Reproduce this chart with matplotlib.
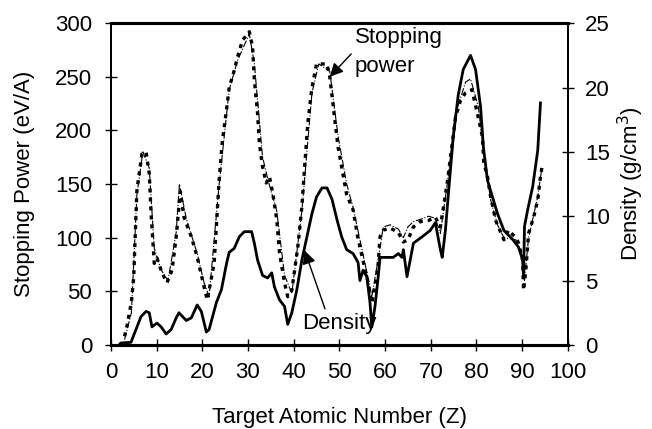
import numpy as np
import matplotlib
matplotlib.use("Agg")
import matplotlib.pyplot as plt

plt.rcParams['font.family'] = ['Liberation Sans', 'DejaVu Sans']

# stopping power (eV/A)
sp_z = [3, 3.5, 4.5, 5, 5.7, 6.8, 7.7, 8.4, 8.8, 9.5, 10.1, 11.2, 12.3, 13.4, 14.3, 15.2, 16, 17.6, 18.9,
        20.4, 21.1, 22.6, 23.7, 24.4, 25.3, 25.9, 27, 27.7, 28.8, 30.3, 31, 31.4, 32.1, 32.5, 33.2, 34,
        34.7, 35.4, 36.3, 36.9, 38, 38.7, 39.6, 40.9, 41.8, 42.4, 43.1, 44, 45, 47.3, 47.9, 49, 49.7,
        50.5, 51.6, 53, 54, 55, 56.3, 57.1, 57.8, 58.5, 58.9, 59.6, 61.1, 62.9, 64, 65, 66.2, 67.7,
        69.5, 71, 72.1, 73.6, 74.7, 75.4, 76.5, 77.6, 79, 80.4, 81.3, 81.6, 82.4, 83.1, 84.2, 86, 87,
        88.6, 89.2, 90.1, 90.3, 90.8, 91.4, 92.5, 93.4, 94, 94.3]
sp_val = [8, 17, 40, 63, 144, 178, 180, 160, 123, 76, 81, 67, 58, 70, 101, 143, 119, 101, 82,
          54, 42, 76, 154, 190, 219, 240, 256, 268, 284, 292, 278, 247, 216, 188, 166, 151,
          157, 142, 117, 86, 58, 45, 51, 91, 129, 166, 207, 240, 262, 262, 250, 210, 185,
          166, 140, 126, 101, 82, 58, 39, 54, 76, 101, 107, 109, 105, 96, 98, 110, 115,
          116, 119, 110, 151, 188, 212, 228, 235, 238, 212, 194, 170, 157, 138, 116, 98, 107,
          100, 95, 79, 51, 70, 104, 119, 135, 157, 165]

# second (thin dash-dot) stopping power curve
sp2_z = [3, 4.5, 5.7, 7, 8.4, 9.5, 11, 12.5, 14.3, 15, 16.5, 18.9, 20.4, 21.5, 23.7, 25.9, 27.7,
         30.3, 31.4, 33.2, 34.5, 36.3, 38, 39.6, 41.8, 44, 45.5, 47.9, 49.7, 51.6, 53, 55, 56.3,
         57.1, 58.5, 59.6, 61.1, 62.9, 64, 65, 66.2, 67.7, 69.5, 71, 72.1, 73.6, 75.4, 77.6, 78.7,
         80.4, 81.6, 83.1, 84.6, 86, 88.6, 90.1, 90.5, 91.4, 93.4, 94.3]
sp2_val = [5, 30, 140, 180, 165, 90, 70, 60, 105, 150, 118, 85, 58, 45, 150, 238, 265,
           290, 262, 175, 152, 125, 65, 48, 125, 235, 262, 255, 195, 150, 128, 88, 62,
           45, 80, 110, 112, 108, 100, 110, 115, 117, 120, 118, 104, 150, 215, 245, 248,
           222, 180, 135, 112, 100, 98, 80, 60, 100, 138, 165]

# density (g/cm3), solid curve
den_z = [1.8, 2.2, 4.4, 5.5, 6.6, 7.7, 8.4, 9, 10.1, 11, 12.1, 13.2, 14.3, 14.9, 16.5, 17.6, 18.9,
         19.8, 20.9, 21.5, 23.1, 24.2, 25.3, 25.9, 27, 28.1, 29.2, 30.8, 31.4, 32.1, 33.2, 34.3,
         35.2, 35.8, 36.9, 38, 38.7, 39.6, 40.7, 41.8, 42.9, 44, 45, 46.2, 47.3, 48.4, 49.5, 50.5,
         51.6, 53, 54.1, 54.5, 55.2, 56, 56.7, 57.1, 57.8, 58.5, 58.9, 61.8, 62.9, 63.7, 64, 64.8,
         65.5, 66.2, 68.1, 69.9, 71, 72.1, 72.5, 73.2, 73.8, 74.9, 76, 77.1, 78.7, 79.8, 80.9,
         81.5, 82.4, 83.5, 84.6, 86, 87.9, 89.2, 90.1, 90.3, 90.5, 91.2, 92.3, 93.4, 94]
den_val = [0, 0.15, 0.2, 1.2, 2.2, 2.6, 2.5, 1.4, 1.7, 1.4, 0.85, 1.2, 2.1, 2.5, 1.9, 2.1, 3.1,
           2.6, 1.0, 1.2, 3.3, 4.3, 6.3, 7.2, 7.5, 8.4, 8.8, 8.8, 7.9, 6.6, 5.4, 5.2,
           5.6, 4.5, 3.5, 3.0, 1.6, 2.5, 4.3, 6.6, 8.4, 10.2, 11.5, 12.2, 12.2, 11.3, 9.7, 8.4,
           7.4, 7.1, 6.4, 5.0, 5.8, 5.3, 3.3, 1.4, 3.0, 5.3, 6.8, 6.8, 7.1, 6.8, 7.4, 5.3,
           6.6, 7.9, 8.4, 8.9, 9.5, 7.4, 6.8, 8.9, 11.5, 16.1, 19.4, 21.4, 22.5, 21.4, 18.5,
           15.4, 12.8, 11.5, 10.2, 8.9, 8.2, 7.6, 6.6, 5.2, 9.2, 10.5, 12.3, 15.1, 18.8]

fig = plt.figure(figsize=(6.52, 4.29), dpi=100)
ax = fig.add_axes([0.170, 0.196, 0.701, 0.750])
ax2 = ax.twinx()

ax.plot(sp2_z, sp2_val, color='black', lw=0.8, ls='-.')
ax.plot(sp_z, sp_val, color='black', lw=2.4, ls=(0, (1.2, 1.5)))
ax2.plot(den_z, den_val, color='black', lw=2.0)

ax.set_xlim(0, 100)
ax.set_ylim(0, 300)
ax2.set_ylim(0, 25)
ax.set_xticks(np.arange(0, 101, 10))
ax.set_yticks(np.arange(0, 301, 50))
ax2.set_yticks(np.arange(0, 26, 5))

fs = 16
ax.tick_params(direction='inout', length=9, width=1, labelsize=fs)
ax.tick_params(axis='y', pad=9)
ax.tick_params(axis='x', pad=8)
ax2.tick_params(direction='inout', length=9, width=1, labelsize=fs, pad=8)
for a in (ax, ax2):
    for s in a.spines.values():
        s.set_linewidth(1.3)
    a.spines['top'].set_linewidth(2.2)
    a.spines['bottom'].set_linewidth(2.2)

ax.set_xlabel("Target Atomic Number (Z)", fontsize=fs, labelpad=17)
ax.set_ylabel("Stopping Power (eV/A)", fontsize=fs, labelpad=14)
ax2.set_ylabel("Density (g/cm$^3$)", fontsize=fs, labelpad=4)

ax.annotate("Stopping\npower", xy=(47.9, 250), xytext=(53.4, 296), fontsize=fs,
            ha='left', va='top', linespacing=1.5,
            arrowprops=dict(arrowstyle='-|>', color='black', lw=1, mutation_scale=20,
                            shrinkA=1, shrinkB=0, relpos=(0, 0.55)))
ax.annotate("Density", xy=(42.4, 88), xytext=(41.8, 20), fontsize=fs,
            ha='left', va='center',
            arrowprops=dict(arrowstyle='-|>', color='black', lw=1, mutation_scale=20,
                            shrinkA=1, shrinkB=0, relpos=(0.33, 1.0)))

fig.savefig("out.png", dpi=100)
